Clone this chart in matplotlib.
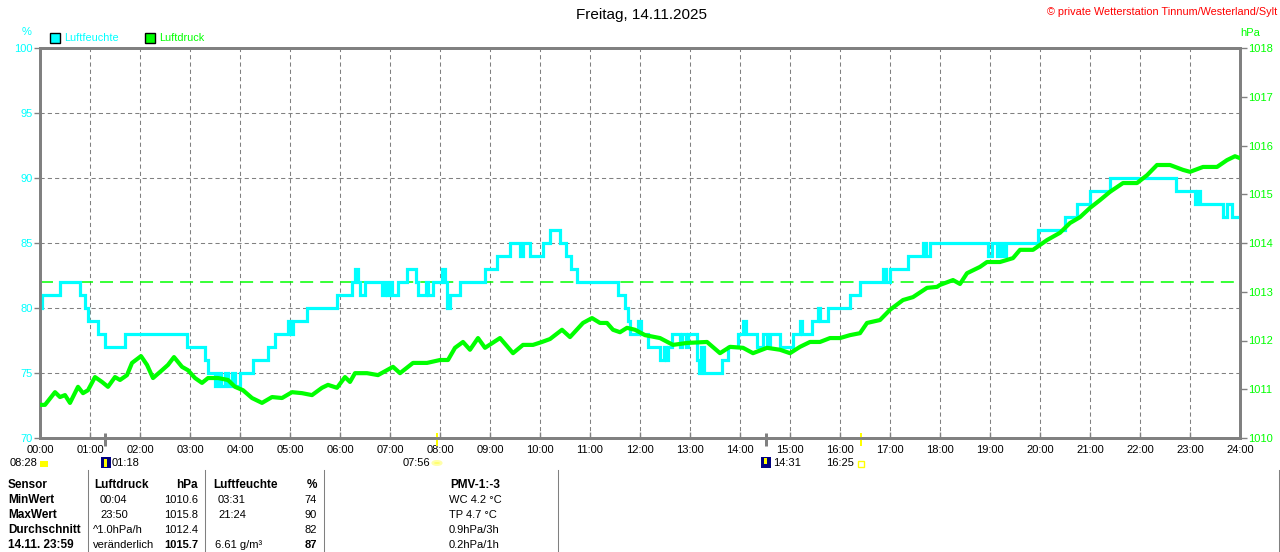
import matplotlib
matplotlib.use('Agg')
import matplotlib.pyplot as plt
from matplotlib.patches import Rectangle, Circle
from matplotlib.lines import Line2D

# ---------------- data ----------------
title = "Freitag, 14.11.2025"
copyright_text = "© private Wetterstation Tinnum/Westerland/Sylt"
hours = list(range(25))
hour_labels = [f"{h:02d}:00" for h in hours]

hum_t = [0.00, 0.04, 0.40, 0.80, 0.90, 0.96, 1.16, 1.30, 1.70, 2.94, 3.30, 3.36, 3.50, 3.56, 3.62,
         3.70, 3.76, 3.84, 3.90, 4.00, 4.26, 4.56, 4.70, 4.96, 5.02, 5.06, 5.34, 5.94, 6.24, 6.30,
         6.36, 6.40, 6.50, 6.84, 6.90, 6.94, 7.00, 7.04, 7.16, 7.34, 7.52, 7.56, 7.72, 7.76, 7.86,
         8.04, 8.10, 8.14, 8.20, 8.40, 8.90, 9.14, 9.40, 9.60, 9.66, 9.80, 10.06, 10.20, 10.40,
         10.52, 10.62, 10.74, 11.56, 11.70, 11.76, 11.80, 11.96, 12.02, 12.16, 12.40, 12.48, 12.52,
         12.56, 12.64, 12.80, 12.84, 12.92, 12.96, 13.14, 13.18, 13.22, 13.28, 13.64, 13.76, 13.96,
         14.06, 14.12, 14.34, 14.46, 14.54, 14.60, 14.80, 15.06, 15.20, 15.24, 15.44, 15.56, 15.60,
         15.76, 16.20, 16.40, 16.86, 16.92, 17.00, 17.36, 17.66, 17.72, 17.80, 18.96, 19.04, 19.14,
         19.20, 19.26, 19.32, 19.96, 20.50, 20.74, 21.00, 21.40, 22.72, 23.10, 23.14, 23.20, 23.66,
         23.74, 23.84, 24.00]
hum_v = [80, 81, 82, 81, 80, 79, 78, 77, 78, 77, 76, 75, 74, 75, 74,
         75, 74, 75, 74, 75, 76, 77, 78, 79, 78, 79, 80, 81, 82, 83,
         82, 81, 82, 81, 82, 81, 82, 81, 82, 83, 82, 81, 82, 81, 82,
         83, 82, 80, 81, 82, 83, 84, 85, 84, 85, 84, 85, 86, 85,
         84, 83, 82, 81, 80, 79, 78, 79, 78, 77, 76, 77, 76,
         77, 78, 77, 78, 77, 78, 76, 75, 77, 75, 76, 77, 78,
         79, 78, 77, 78, 77, 78, 77, 78, 79, 78, 79, 80, 79,
         80, 81, 82, 83, 82, 83, 84, 85, 84, 85, 84, 85, 84,
         85, 84, 85, 86, 87, 88, 89, 90, 89, 88, 89, 88, 87,
         88, 87, 87]

pres_t = [0.00, 0.10, 0.30, 0.40, 0.50, 0.60, 0.76, 0.86, 0.96, 1.10, 1.24, 1.36, 1.50, 1.60, 1.74,
          1.84, 2.02, 2.14, 2.26, 2.44, 2.56, 2.68, 2.84, 2.96, 3.10, 3.24, 3.36, 3.56, 3.76, 3.90,
          4.06, 4.24, 4.44, 4.64, 4.84, 5.04, 5.24, 5.44, 5.64, 5.76, 5.94, 6.10, 6.20, 6.30, 6.54,
          6.76, 7.06, 7.20, 7.46, 7.74, 8.00, 8.16, 8.30, 8.46, 8.60, 8.76, 8.90, 9.20, 9.46, 9.66,
          9.86, 10.04, 10.20, 10.44, 10.60, 10.86, 11.04, 11.20, 11.34, 11.46, 11.60, 11.74, 11.90,
          12.10, 12.40, 12.66, 12.94, 13.34, 13.60, 13.80, 14.06, 14.26, 14.54, 14.80, 15.00, 15.20,
          15.40, 15.60, 15.80, 16.00, 16.20, 16.40, 16.54, 16.80, 17.00, 17.26, 17.46, 17.74, 17.94,
          18.00, 18.26, 18.40, 18.54, 18.80, 18.94, 19.20, 19.46, 19.60, 19.86, 20.14, 20.40, 20.60,
          20.80, 21.00, 21.20, 21.40, 21.66, 21.94, 22.14, 22.34, 22.60, 22.86, 23.00, 23.26, 23.54,
          23.74, 23.90, 24.00]
pres_v = [1010.68, 1010.68, 1010.94, 1010.84, 1010.88, 1010.72, 1011.05, 1010.92, 1010.98, 1011.25,
          1011.15, 1011.05, 1011.25, 1011.19, 1011.29, 1011.54, 1011.68, 1011.50, 1011.23, 1011.39,
          1011.50, 1011.66, 1011.46, 1011.39, 1011.23, 1011.13, 1011.23, 1011.23, 1011.19, 1011.05,
          1010.98, 1010.82, 1010.72, 1010.84, 1010.82, 1010.94, 1010.92, 1010.88, 1011.03, 1011.09,
          1011.03, 1011.25, 1011.15, 1011.33, 1011.33, 1011.29, 1011.46, 1011.33, 1011.54, 1011.54,
          1011.60, 1011.60, 1011.85, 1011.97, 1011.81, 1012.05, 1011.85, 1012.05, 1011.74, 1011.91,
          1011.91, 1011.97, 1012.03, 1012.22, 1012.07, 1012.36, 1012.46, 1012.36, 1012.36, 1012.22,
          1012.17, 1012.26, 1012.22, 1012.11, 1012.05, 1011.91, 1011.95, 1011.97, 1011.74, 1011.87,
          1011.85, 1011.74, 1011.85, 1011.81, 1011.74, 1011.87, 1011.97, 1011.97, 1012.05, 1012.05,
          1012.11, 1012.15, 1012.36, 1012.42, 1012.63, 1012.83, 1012.89, 1013.08, 1013.10, 1013.14,
          1013.24, 1013.16, 1013.38, 1013.51, 1013.61, 1013.61, 1013.69, 1013.86, 1013.86, 1014.06,
          1014.21, 1014.41, 1014.53, 1014.72, 1014.88, 1015.05, 1015.23, 1015.23, 1015.39, 1015.60,
          1015.60, 1015.50, 1015.46, 1015.56, 1015.56, 1015.70, 1015.78, 1015.74]

hum_avg = 82
hum_ticks = [70, 75, 80, 85, 90, 95, 100]
pres_ticks = [1010, 1011, 1012, 1013, 1014, 1015, 1016, 1017, 1018]

# events: (time in hours, label)
moonrise = (1.3, "01:18")
sunrise = (7.933, "07:56")
moonset = (14.517, "14:31")
sunset = (16.417, "16:25")
moon_label = "08:28"

table_rows = [
    ["Sensor", "Luftdruck", "hPa", "Luftfeuchte", "%", "PMV-1:-3"],
    ["MinWert", "00:04", "1010.6", "03:31", "74", "WC 4.2 °C"],
    ["MaxWert", "23:50", "1015.8", "21:24", "90", "TP 4.7 °C"],
    ["Durchschnitt", "^1.0hPa/h", "1012.4", "", "82", "0.9hPa/3h"],
    ["14.11. 23:59", "veränderlich", "1015.7", "6.61 g/m³", "87", "0.2hPa/1h"],
]

# ---------------- style ----------------
CYAN = "#00FFFF"
GREEN = "#00FF00"
GRAY = "#808080"
W, H = 1280, 552
plt.rcParams['font.family'] = ['Liberation Sans', 'DejaVu Sans']

fig = plt.figure(figsize=(12.8, 5.52), dpi=100)
fig.patch.set_facecolor('white')

def fx(x):
    return x / W

def fy(y):
    return 1 - y / H

ax = fig.add_axes([fx(40), fy(438), 1200 / W, 390 / H])
ax2 = ax.twinx()
ax2.set_zorder(ax.get_zorder() + 1)
ax2.patch.set_visible(False)

ax.set_xlim(0, 24)
ax.set_ylim(70, 100)
ax2.set_ylim(1010, 1018)

for a in (ax, ax2):
    for s in a.spines.values():
        s.set_color(GRAY)
        s.set_linewidth(2.0)

ax.set_xticks(hours)
ax.set_xticklabels(hour_labels, fontsize=8, color='black')
ax.tick_params(axis='x', direction='in', length=4, width=1, color=GRAY, pad=5)
ax.set_yticks(hum_ticks)
ax.set_yticklabels([str(v) for v in hum_ticks], fontsize=8, color=CYAN)
ax.tick_params(axis='y', direction='out', length=4, width=1, color=GRAY, pad=1)
ax2.set_yticks(pres_ticks)
ax2.set_yticklabels([str(v) for v in pres_ticks], fontsize=8, color=GREEN)
ax2.tick_params(axis='y', direction='out', length=5, width=1, color=GRAY, pad=1)

ax.grid(True, color=GRAY, linewidth=0.75, linestyle=(0, (4, 3)))
ax.set_axisbelow(True)

ax.plot([0, 24], [hum_avg, hum_avg], color=GREEN, lw=1.1, linestyle=(0, (8.5, 4.6)), zorder=2)
ax.plot(hum_t, hum_v, drawstyle='steps-post', color=CYAN, lw=2.3, zorder=3, solid_joinstyle='miter')
ax2.plot(pres_t, pres_v, color=GREEN, lw=3.0, zorder=3)

# event markers below axis
tr = ax.get_xaxis_transform()
for (t, _), col, lw in [(moonrise, GRAY, 3), (moonset, GRAY, 3), (sunrise, '#FFFF00', 2), (sunset, '#FFFF00', 2)]:
    ax.plot([t, t], [0.013, -0.021], transform=tr, color=col, lw=lw * 0.72, clip_on=False, zorder=5,
            solid_capstyle='butt')

# labels below the x-axis
ylab = -0.064
ax.text(moonrise[0] + 0.13, ylab, moonrise[1], transform=tr, fontsize=8, ha='left', va='center')
ax.text(moonset[0] + 0.14, ylab, moonset[1], transform=tr, fontsize=8, ha='left', va='center')
ax.text(sunrise[0] - 0.12, ylab, sunrise[1], transform=tr, fontsize=8, ha='right', va='center')
ax.text(sunset[0] - 0.14, ylab, sunset[1], transform=tr, fontsize=8, ha='right', va='center')
fig.text(fx(10), fy(463), moon_label, fontsize=8, ha='left', va='center')

# icons
def px_rect(x0, y0, w, h, **kw):
    fig.add_artist(Rectangle((fx(x0), fy(y0 + h)), w / W, h / H, transform=fig.transFigure, **kw))

px_rect(40, 461, 8, 6, facecolor='#FFFF00', edgecolor='none')
px_rect(101, 457, 10, 11, facecolor='#000080', edgecolor='none')
px_rect(104, 459, 3, 8, facecolor='#FFFF00', edgecolor='none')
px_rect(761, 457, 10, 11, facecolor='#000080', edgecolor='none')
px_rect(764, 458, 3, 6, facecolor='#FFFF00', edgecolor='none')
px_rect(858, 461, 6, 6, facecolor='none', edgecolor='#FFFF00', lw=1)
fig.add_artist(Circle((fx(437), fy(463)), 4.5 / W, transform=fig.transFigure,
                      facecolor='#FFFF66', edgecolor='#FFFFAA', lw=1.5))

# title and header texts
fig.text(fx(642), fy(15), title, fontsize=11, ha='center', va='center', color='black')
fig.text(fx(1277), fy(12), copyright_text, fontsize=7.8, ha='right', va='center', color='#FF0000')
fig.text(fx(27), fy(32), "%", fontsize=8, ha='center', va='center', color=CYAN)
fig.text(fx(1250), fy(33), "hPa", fontsize=8, ha='center', va='center', color=GREEN)

px_rect(50, 33, 10, 10, facecolor=CYAN, edgecolor='black', lw=1)
fig.text(fx(64), fy(38), "Luftfeuchte", fontsize=7.8, ha='left', va='center', color=CYAN)
px_rect(145, 33, 10, 10, facecolor=GREEN, edgecolor='black', lw=1)
fig.text(fx(159), fy(38), "Luftdruck", fontsize=7.8, ha='left', va='center', color=GREEN)

# table
for xs in [88, 205, 324, 558, 1279]:
    fig.add_artist(Line2D([fx(xs), fx(xs)], [fy(470), fy(552)], transform=fig.transFigure,
                          color=GRAY, lw=0.75))

row_y = [485, 500, 515, 530, 545]
for i, row in enumerate(table_rows):
    y = fy(row_y[i])
    header = (i == 0)
    fig.text(fx(8), y, row[0], fontsize=8.5, fontweight='bold', ha='left', va='center')
    c1x = 94 if header else 100
    if row[1].startswith('^') or row[1].startswith('ver'):
        c1x = 93
    fig.text(fx(c1x), y, row[1], fontsize=8.5 if header else 8, fontweight='bold' if header else 'normal',
             ha='left', va='center')
    fig.text(fx(198), y, row[2], fontsize=8.5 if header else 8,
             fontweight='bold' if (header or i == 4) else 'normal', ha='right', va='center')
    c3x = 213 if header else 218
    if i == 4:
        c3x = 215
    fig.text(fx(c3x), y, row[3], fontsize=8.5 if header else 8, fontweight='bold' if header else 'normal',
             ha='left', va='center')
    fig.text(fx(317), y, row[4], fontsize=8.5 if header else 8,
             fontweight='bold' if (header or i == 4) else 'normal', ha='right', va='center')
    if header:
        fig.text(fx(475), y, row[5], fontsize=8.5, fontweight='bold', ha='center', va='center')
    else:
        fig.text(fx(449), y, row[5], fontsize=8, ha='left', va='center')

fig.savefig('out.png', dpi=100, facecolor='white')
